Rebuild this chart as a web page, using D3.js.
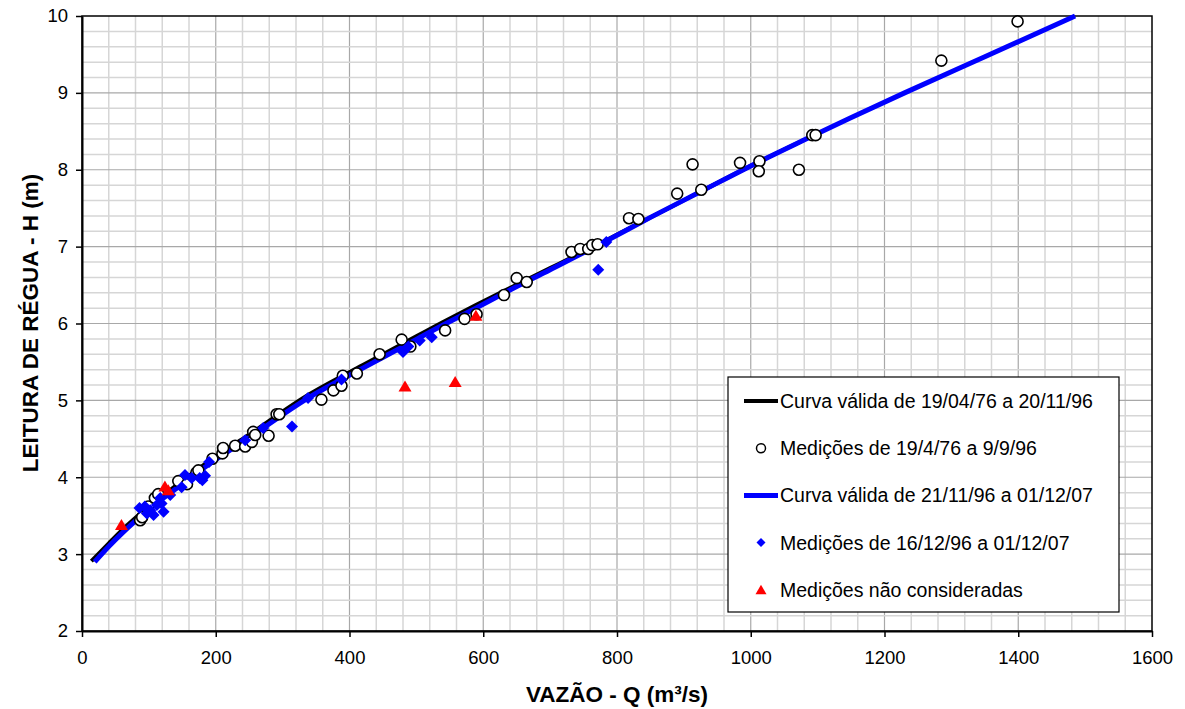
<!DOCTYPE html>
<html>
<head>
<meta charset="utf-8">
<script src="https://cdn.jsdelivr.net/npm/d3@7"></script>
<style>
  body { margin: 0; background: #fff; }
  text { font-family: Arial, "Liberation Sans", sans-serif; }
</style>
</head>
<body>
<script>
// rating curves (vazão Q, leitura H)
var curveOldQ = [14, 40, 62, 100, 142, 190, 244, 338, 420, 478, 540, 589, 630, 700, 783, 850, 926, 1000, 1078];
var curveOldH = [2.91, 3.14, 3.33, 3.62, 3.90, 4.21, 4.52, 5.07, 5.46, 5.73, 6.02, 6.24, 6.42, 6.72, 7.08, 7.38, 7.72, 8.05, 8.38];

var curveNewQ = [19, 40, 62, 100, 142, 190, 244, 338, 420, 478, 540, 589, 630, 700, 783, 850, 926, 1000, 1078, 1148, 1230, 1350, 1485];
var curveNewH = [2.90, 3.10, 3.29, 3.58, 3.86, 4.17, 4.48, 5.03, 5.42, 5.69, 5.98, 6.20, 6.39, 6.70, 7.07, 7.38, 7.72, 8.05, 8.38, 8.67, 9.00, 9.47, 10.0];

// medições 19/4/76 a 9/9/96
var oldQ = [87, 90, 99, 109, 114, 144, 157, 171, 174, 195, 210, 211, 229, 244, 254, 256, 259, 279, 291, 295, 358, 376, 388, 390, 411, 445, 478, 491, 543, 572, 590, 631, 650, 665, 732, 745, 757, 763, 771, 818, 832, 890, 926, 913, 984, 1013, 1012, 1072, 1092, 1097, 1285, 1399];
var oldH = [3.44, 3.48, 3.62, 3.73, 3.78, 3.95, 3.91, 4.06, 4.09, 4.24, 4.31, 4.38, 4.41, 4.40, 4.46, 4.59, 4.55, 4.54, 4.82, 4.82, 5.01, 5.13, 5.19, 5.32, 5.35, 5.60, 5.79, 5.70, 5.91, 6.06, 6.12, 6.37, 6.59, 6.54, 6.93, 6.97, 6.97, 7.02, 7.03, 7.37, 7.36, 7.69, 7.74, 8.07, 8.09, 8.11, 7.98, 8.00, 8.45, 8.45, 9.42, 9.93];

// medições 16/12/96 a 01/12/07
var newQ = [86, 94, 97, 102, 107, 112, 117, 119, 122, 132, 149, 154, 164, 176, 180, 184, 190, 244, 271, 314, 338, 388, 480, 488, 505, 523, 772, 784];
var newH = [3.60, 3.62, 3.53, 3.57, 3.51, 3.64, 3.73, 3.66, 3.55, 3.77, 3.87, 4.03, 3.99, 3.99, 3.96, 4.02, 4.20, 4.48, 4.64, 4.66, 5.03, 5.27, 5.63, 5.70, 5.78, 5.82, 6.70, 7.06];

// medições não consideradas
var rejQ = [59, 124, 129, 483, 558, 589];
var rejH = [3.38, 3.88, 3.83, 5.18, 5.24, 6.10];

var xTicks = [0, 200, 400, 600, 800, 1000, 1200, 1400, 1600];
var yTicks = [2, 3, 4, 5, 6, 7, 8, 9, 10];

var legendLabels = [
  "Curva válida de 19/04/76 a 20/11/96",
  "Medições de 19/4/76 a 9/9/96",
  "Curva válida de 21/11/96 a 01/12/07",
  "Medições de 16/12/96 a 01/12/07",
  "Medições não consideradas"
];

var options = { width: 1185, height: 709, left: 82, right: 1152, top: 16, bottom: 631 };

var svg = d3.select('body').append('svg')
  .attr('width', options.width)
  .attr('height', options.height);

var x = d3.scaleLinear().domain([0, 1600]).range([options.left, options.right]);
var y = d3.scaleLinear().domain([2, 10]).range([options.bottom, options.top]);

var zip = function(a, b) { return a.map(function(v, i) { return [v, b[i]]; }); };

// grid
var grid = svg.append('g');
d3.range(40, 1600, 40).forEach(function(q) {
  var major = q % 200 === 0;
  grid.append('line')
    .attr('x1', x(q)).attr('x2', x(q))
    .attr('y1', options.top).attr('y2', options.bottom)
    .attr('stroke', major ? '#a8a8a8' : '#d6d6d6')
    .attr('stroke-width', major ? 1.2 : 1.5);
});
d3.range(11, 50).forEach(function(k) {
  var h = k / 5;
  var major = k % 5 === 0;
  grid.append('line')
    .attr('x1', options.left).attr('x2', options.right)
    .attr('y1', y(h)).attr('y2', y(h))
    .attr('stroke', major ? '#a8a8a8' : '#d6d6d6')
    .attr('stroke-width', major ? 1.2 : 1.5);
});

// plot frame
svg.append('rect')
  .attr('x', options.left).attr('y', options.top)
  .attr('width', options.right - options.left).attr('height', options.bottom - options.top)
  .attr('fill', 'none').attr('stroke', '#000').attr('stroke-width', 1.5);

// axes
var xAxis = svg.append('g')
  .attr('transform', 'translate(0,' + options.bottom + ')')
  .call(d3.axisBottom(x).tickValues(xTicks).tickFormat(d3.format('d'))
    .tickSize(6).tickSizeOuter(0).tickPadding(14));
var yAxis = svg.append('g')
  .attr('transform', 'translate(' + options.left + ',0)')
  .call(d3.axisLeft(y).tickValues(yTicks).tickFormat(d3.format('d'))
    .tickSize(6).tickSizeOuter(0).tickPadding(8));
[xAxis, yAxis].forEach(function(ax) {
  ax.select('.domain').attr('stroke', '#000').attr('stroke-width', 2);
  ax.selectAll('.tick line').attr('stroke', '#000').attr('stroke-width', 1.5);
  ax.selectAll('.tick text').attr('fill', '#000').style('font-size', '18.5px')
    .style('font-family', 'Arial, "Liberation Sans", sans-serif');
});

// axis titles
svg.append('text')
  .attr('x', 617).attr('y', 702)
  .attr('text-anchor', 'middle')
  .style('font-size', '22.5px').style('font-weight', 'bold')
  .text('VAZÃO - Q (m³/s)');
svg.append('text')
  .attr('transform', 'translate(38,323) rotate(-90)')
  .attr('text-anchor', 'middle')
  .style('font-size', '22.5px').style('font-weight', 'bold')
  .text('LEITURA DE RÉGUA - H (m)');

// curves
var line = d3.line()
  .x(function(d) { return x(d[0]); })
  .y(function(d) { return y(d[1]); })
  .curve(d3.curveMonotoneX);

svg.append('path').datum(zip(curveOldQ, curveOldH))
  .attr('d', line).attr('fill', 'none').attr('stroke', '#000').attr('stroke-width', 4);
svg.append('path').datum(zip(curveNewQ, curveNewH))
  .attr('d', line).attr('fill', 'none').attr('stroke', '#0000ff').attr('stroke-width', 5);

var diamond = 'M0,-6L6,0L0,6L-6,0Z';
var triangle = 'M0,-6L6.5,5L-6.5,5Z';

svg.append('g').selectAll('circle')
  .data(zip(oldQ, oldH)).enter()
  .append('circle')
  .attr('cx', function(d) { return x(d[0]); })
  .attr('cy', function(d) { return y(d[1]); })
  .attr('r', 5.5)
  .attr('fill', '#fff').attr('stroke', '#000').attr('stroke-width', 1.6);

svg.append('g').selectAll('path')
  .data(zip(newQ, newH)).enter()
  .append('path')
  .attr('d', diamond)
  .attr('transform', function(d) { return 'translate(' + x(d[0]) + ',' + y(d[1]) + ')'; })
  .attr('fill', '#0000ff');

svg.append('g').selectAll('path')
  .data(zip(rejQ, rejH)).enter()
  .append('path')
  .attr('d', triangle)
  .attr('transform', function(d) { return 'translate(' + x(d[0]) + ',' + y(d[1]) + ')'; })
  .attr('fill', '#ff0000');

// legend
var legend = svg.append('g').attr('transform', 'translate(728,377)');
legend.append('rect')
  .attr('width', 391).attr('height', 235)
  .attr('fill', '#fff').attr('stroke', '#000').attr('stroke-width', 1.2);

legendLabels.forEach(function(label, i) {
  var cy = 24 + i * 47.2;
  var row = legend.append('g').attr('transform', 'translate(0,' + cy + ')');
  if (i === 0 || i === 2) {
    row.append('line').attr('x1', 16).attr('x2', 50).attr('y1', 0).attr('y2', 0)
      .attr('stroke', i === 0 ? '#000' : '#0000ff').attr('stroke-width', i === 0 ? 4 : 5);
  } else if (i === 1) {
    row.append('circle').attr('cx', 33).attr('cy', 0).attr('r', 4.5)
      .attr('fill', '#fff').attr('stroke', '#000').attr('stroke-width', 1.5);
  } else if (i === 3) {
    row.append('path').attr('d', 'M0,-4.5L4.5,0L0,4.5L-4.5,0Z')
      .attr('transform', 'translate(33,0)').attr('fill', '#0000ff');
  } else {
    row.append('path').attr('d', 'M0,-5L5.5,4.5L-5.5,4.5Z')
      .attr('transform', 'translate(33,0)').attr('fill', '#ff0000');
  }
  row.append('text')
    .attr('x', 52).attr('y', 0).attr('dy', '0.36em')
    .style('font-size', '19.5px')
    .text(label);
});
</script>
</body>
</html>
